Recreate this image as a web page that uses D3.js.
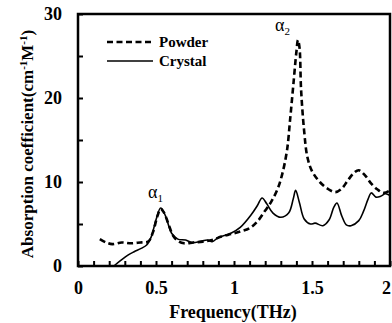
<!DOCTYPE html>
<html>
<head>
<meta charset="utf-8">
<script src="https://cdn.jsdelivr.net/npm/d3@7"></script>
<style>
  body { margin: 0; background: #fff; }
  svg { display: block; font-family: "Liberation Serif", "Times New Roman", serif; }
</style>
</head>
<body>
<div id="chart"></div>
<script>
// Data
const powderFreq = [0.14, 0.18, 0.22, 0.28, 0.34, 0.40, 0.45, 0.48, 0.51, 0.53, 0.55, 0.58, 0.61, 0.64, 0.68,
  0.74, 0.80, 0.86, 0.92, 0.98, 1.04, 1.10, 1.15, 1.20, 1.24, 1.28, 1.31, 1.34, 1.36, 1.38, 1.40, 1.41,
  1.42, 1.43, 1.45, 1.47, 1.50, 1.55, 1.60, 1.65, 1.69, 1.73, 1.77, 1.80, 1.84, 1.88, 1.92, 1.96, 2.00];
const powderAbs = [3.2, 2.8, 2.6, 2.8, 2.7, 2.8, 2.9, 4.0, 6.0, 6.8, 6.4, 5.0, 3.6, 3.0, 2.7,
  2.8, 2.9, 3.1, 3.5, 3.8, 4.1, 4.5, 5.3, 6.6, 7.7, 9.2, 11.0, 13.8, 17.5, 21.5, 25.5, 26.9,
  26.0, 21.0, 16.0, 13.0, 11.3, 10.0, 9.2, 8.8, 9.2, 10.2, 11.1, 11.4, 10.8, 9.8, 9.1, 8.7, 9.0];

const crystalFreq = [0.23, 0.27, 0.32, 0.36, 0.405, 0.44, 0.47, 0.50, 0.53, 0.56, 0.60, 0.64, 0.69, 0.73,
  0.78, 0.83, 0.86, 0.90, 0.95, 0.98, 1.04, 1.11, 1.15, 1.18, 1.21, 1.25, 1.30, 1.35, 1.38, 1.395,
  1.42, 1.45, 1.49, 1.52, 1.57, 1.61, 1.64, 1.66, 1.69, 1.72, 1.75, 1.80, 1.83, 1.86, 1.88, 1.91,
  1.94, 1.97, 2.00];
const crystalAbs = [0, 0.6, 1.3, 1.7, 2.1, 2.5, 3.5, 5.5, 6.9, 6.0, 3.9, 3.2, 3.1, 2.8,
  2.9, 3.1, 2.9, 3.4, 3.7, 3.9, 4.6, 6.1, 7.2, 8.1, 7.4, 6.3, 5.8, 6.3, 8.0, 9.0,
  7.5, 5.6, 5.0, 5.1, 4.8, 5.5, 7.0, 7.5, 6.0, 4.9, 4.8, 5.4, 6.5, 8.0, 8.7, 8.2,
  8.3, 8.6, 8.4];

const xTickLabels = [0, 0.5, 1, 1.5, 2];
const yTickLabels = [0, 10, 20, 30];

// Layout
const width = 392, height = 323;
const margin = { top: 14, right: 2, bottom: 57, left: 78 };
const plotW = width - margin.left - margin.right;
const plotH = height - margin.top - margin.bottom;

const svg = d3.select("#chart").append("svg")
  .attr("width", width)
  .attr("height", height);

const chart = svg.append("g")
  .attr("transform", `translate(${margin.left},${margin.top})`);

const x = d3.scaleLinear().domain([0, 2]).range([0, plotW]);
const y = d3.scaleLinear().domain([0, 30]).range([plotH, 0]);

// axes (ticks inward)
const xAxis = chart.append("g")
  .attr("transform", `translate(0,${plotH})`)
  .call(d3.axisBottom(x)
    .tickValues(d3.range(0, 2.001, 0.1))
    .tickSizeInner(-5).tickSizeOuter(0).tickPadding(15)
    .tickFormat(d => xTickLabels.some(t => Math.abs(t - d) < 1e-6) ? d3.format("~g")(d) : ""));

const yAxis = chart.append("g")
  .call(d3.axisLeft(y)
    .tickValues(d3.range(0, 30.001, 5))
    .tickSizeInner(-5).tickSizeOuter(0).tickPadding(16)
    .tickFormat(d => yTickLabels.includes(d) ? d : ""));

[xAxis, yAxis].forEach(a => {
  a.select(".domain").remove();
  a.selectAll(".tick line").attr("stroke", "#000").attr("stroke-width", 2);
  a.selectAll(".tick text")
    .attr("fill", "#000")
    .style("font-family", "Liberation Serif, serif")
    .style("font-weight", "bold")
    .style("font-size", "18px");
});
// last x label sits right at the window edge
xAxis.selectAll(".tick text").filter(d => Math.abs(d - 2) < 1e-6).attr("dx", -4);

// frame
chart.append("rect")
  .attr("x", 0).attr("y", 0)
  .attr("width", plotW).attr("height", plotH)
  .attr("fill", "none")
  .attr("stroke", "#000")
  .attr("stroke-width", 2.5);

// lines
const line = d3.line()
  .x(d => x(d[0]))
  .y(d => y(d[1]))
  .curve(d3.curveCatmullRom.alpha(0.5));

chart.append("path")
  .datum(d3.zip(crystalFreq, crystalAbs))
  .attr("fill", "none")
  .attr("stroke", "#000")
  .attr("stroke-width", 1.6)
  .attr("d", line);

chart.append("path")
  .datum(d3.zip(powderFreq, powderAbs))
  .attr("fill", "none")
  .attr("stroke", "#000")
  .attr("stroke-width", 2.6)
  .attr("stroke-dasharray", "6,3.5")
  .attr("d", line);

// legend
const legend = svg.append("g");
const legendItems = [
  { name: "Powder", dash: "6,3.5", w: 2.6, y: 42 },
  { name: "Crystal", dash: null, w: 1.6, y: 61 }
];
legendItems.forEach(item => {
  legend.append("line")
    .attr("x1", 107).attr("x2", 153)
    .attr("y1", item.y).attr("y2", item.y)
    .attr("stroke", "#000")
    .attr("stroke-width", item.w)
    .attr("stroke-dasharray", item.dash);
  legend.append("text")
    .attr("x", 159).attr("y", item.y + 5)
    .style("font-size", "15px")
    .style("font-weight", "bold")
    .text(item.name);
});

// peak labels
function peakLabel(px, py, sub) {
  const t = svg.append("text")
    .attr("x", px).attr("y", py)
    .style("font-size", "18px");
  t.append("tspan").text("α");
  t.append("tspan").attr("dy", 4).style("font-size", "11px").text(sub);
}
peakLabel(148, 198, "1");
peakLabel(275, 31, "2");

// axis titles
svg.append("text")
  .attr("x", 233).attr("y", 318)
  .attr("text-anchor", "middle")
  .style("font-size", "18px")
  .style("font-weight", "bold")
  .text("Frequency(THz)");

const yTitle = svg.append("text")
  .attr("transform", "translate(33,144) rotate(-90)")
  .attr("text-anchor", "middle")
  .style("font-size", "17px")
  .style("font-weight", "bold");
yTitle.append("tspan").text("Absorption coefficient(cm");
yTitle.append("tspan").attr("dy", -6).style("font-size", "11px").text("-1");
yTitle.append("tspan").attr("dy", 6).text("M");
yTitle.append("tspan").attr("dy", -6).style("font-size", "11px").text("-1");
yTitle.append("tspan").attr("dy", 6).text(")");
</script>
</body>
</html>
